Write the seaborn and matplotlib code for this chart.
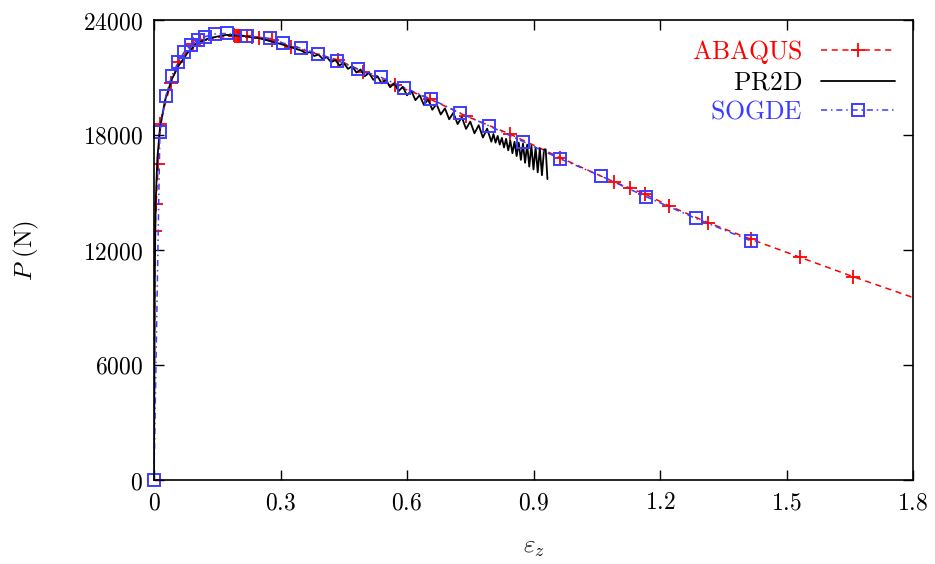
import numpy as np
import pandas as pd
import matplotlib
matplotlib.use("Agg")
import matplotlib.pyplot as plt
import seaborn as sns

# ABAQUS (red, dashed, + markers)
abaqus_eps = [0.0, 0.0024, 0.005, 0.010, 0.014, 0.040, 0.058, 0.092, 0.109,
              0.190, 0.193, 0.196, 0.199, 0.202, 0.205, 0.220, 0.232, 0.250,
              0.280, 0.326, 0.437, 0.496, 0.571, 0.654, 0.740, 0.844, 0.963,
              1.091, 1.129, 1.164, 1.222, 1.315, 1.416, 1.532, 1.658, 1.910]
abaqus_P = [0, 13000, 14400, 16500, 18600, 20700, 21800, 22750, 22950,
            23200, 23190, 23180, 23170, 23160, 23150, 23150, 23100, 23050,
            22950, 22610, 21910, 21300, 20610, 19880, 18990, 18050, 16820,
            15550, 15230, 14920, 14300, 13420, 12560, 11620, 10610, 8680]

# PR2D (black, solid) - smooth rise, then noisy decline ending in oscillations
pr2d_eps = [0.0, 0.001, 0.002, 0.004, 0.008, 0.014, 0.026, 0.042, 0.058, 0.080,
            0.100, 0.130, 0.170, 0.210, 0.250, 0.300, 0.350,
            0.36, 0.37, 0.38, 0.39, 0.40, 0.41, 0.42, 0.43, 0.44, 0.45,
            0.46, 0.47, 0.48, 0.49, 0.50, 0.51, 0.52, 0.53, 0.54, 0.55,
            0.56, 0.57, 0.58, 0.59, 0.60, 0.61, 0.62, 0.63, 0.64, 0.65,
            0.66, 0.67, 0.68, 0.69, 0.70, 0.71, 0.72, 0.73, 0.74, 0.75,
            0.76, 0.77, 0.78, 0.79, 0.80,
            0.805, 0.810, 0.815, 0.820, 0.825, 0.830, 0.835, 0.840, 0.845, 0.850,
            0.855, 0.860, 0.865, 0.870, 0.875, 0.880, 0.885, 0.890, 0.895, 0.900,
            0.905, 0.910, 0.915, 0.920, 0.925, 0.929, 0.933]
pr2d_P = [0, 6000, 11000, 14500, 16800, 18300, 19800, 20900, 21600, 22300,
          22750, 23050, 23220, 23180, 23050, 22750, 22400,
          22270, 22330, 22120, 22200, 21970, 22060, 21800, 21910, 21630, 21760,
          21450, 21590, 21260, 21420, 21070, 21240, 20880, 21070, 20690, 20900,
          20490, 20710, 20280, 20520, 20070, 20310, 19820, 20080, 19570, 19850,
          19320, 19620, 19070, 19390, 18820, 19160, 18570, 18930, 18320, 18700,
          18090, 18510, 17870, 18330, 17650,
          18050, 17600, 17950, 17500, 17850, 17350, 17800, 17200, 17700, 17050,
          17650, 16900, 17600, 16700, 17550, 16550, 17500, 16350, 17450, 16200,
          17350, 16050, 17300, 15900, 17250, 17250, 15700]

# SOGDE (blue, dash-dot, open squares)
sogde_eps = [0.0, 0.014, 0.028, 0.042, 0.058, 0.071, 0.088, 0.104, 0.121,
             0.145, 0.172, 0.220, 0.275, 0.306, 0.349, 0.390, 0.435, 0.484,
             0.538, 0.594, 0.656, 0.726, 0.795, 0.876, 0.964, 1.060, 1.167,
             1.285, 1.416]
sogde_P = [0, 18150, 20030, 21080, 21830, 22310, 22700, 22960, 23130,
           23270, 23300, 23170, 23040, 22800, 22520, 22230, 21880, 21440,
           21010, 20470, 19880, 19150, 18470, 17650, 16750, 15860, 14780,
           13650, 12470]

xticks = [0, 0.3, 0.6, 0.9, 1.2, 1.5, 1.8]
xtick_labels = ["0", "0.3", "0.6", "0.9", "1.2", "1.5", "1.8"]
yticks = [0, 6000, 12000, 18000, 24000]
ytick_labels = ["0", "6000", "12000", "18000", "24000"]

sns.set_style("ticks")
plt.rcParams["mathtext.fontset"] = "cm"
plt.rcParams["font.family"] = ["DejaVu Serif"]
plt.rcParams["text.color"] = "black"
plt.rcParams["axes.labelcolor"] = "black"
plt.rcParams["xtick.color"] = "black"
plt.rcParams["ytick.color"] = "black"

red = "#ff0000"
blue = "#3c3cff"
fs = 17
fig = plt.figure(figsize=(9.35, 5.64), dpi=100)
ax = fig.add_axes([154 / 935, 1 - 480 / 564, (913 - 154) / 935, (480 - 20) / 564])

sns.lineplot(x=abaqus_eps, y=abaqus_P, ax=ax, sort=False, estimator=None,
             color=red, linewidth=1.1, linestyle=(0, (4, 3)),
             marker="+", markersize=10, markeredgewidth=1.3,
             markeredgecolor=red, label=r"$\mathrm{ABAQUS}$")
sns.lineplot(x=pr2d_eps, y=pr2d_P, ax=ax, sort=False, estimator=None,
             color="black", linewidth=1.3, label=r"$\mathrm{PR2D}$")
sns.lineplot(x=sogde_eps, y=sogde_P, ax=ax, sort=False, estimator=None,
             color=blue, linewidth=1.1, linestyle=(0, (4, 2.5, 1, 2.5)),
             marker="s", markersize=8, markerfacecolor="none",
             markeredgecolor=blue, markeredgewidth=1.4, clip_on=False,
             label=r"$\mathrm{SOGDE}$")

ax.set_xlim(0, 1.8)
ax.set_ylim(0, 24000)
ax.set_xticks(xticks)
ax.set_xticklabels([f"${t}$" for t in xtick_labels], fontsize=fs)
ax.set_yticks(yticks)
ax.set_yticklabels([f"${t}$" for t in ytick_labels], fontsize=fs)
ax.tick_params(direction="in", top=True, right=True, length=7, width=1.0, pad=8,
               colors="black")
for s in ax.spines.values():
    s.set_linewidth(1.2)
    s.set_color("black")

ax.set_xlabel(r"$\varepsilon_z$", fontsize=fs + 1, labelpad=16)
ax.set_ylabel(r"$P\ \mathrm{(N)}$", fontsize=fs + 1, labelpad=30)

leg = ax.legend(loc="upper right", frameon=False, markerfirst=False,
                handlelength=2.9, labelspacing=0.15, handletextpad=0.7,
                borderaxespad=0.3, prop={"size": 18.5})
for txt, c in zip(leg.get_texts(), [red, "black", blue]):
    txt.set_color(c)

fig.savefig("out.png", dpi=100)
